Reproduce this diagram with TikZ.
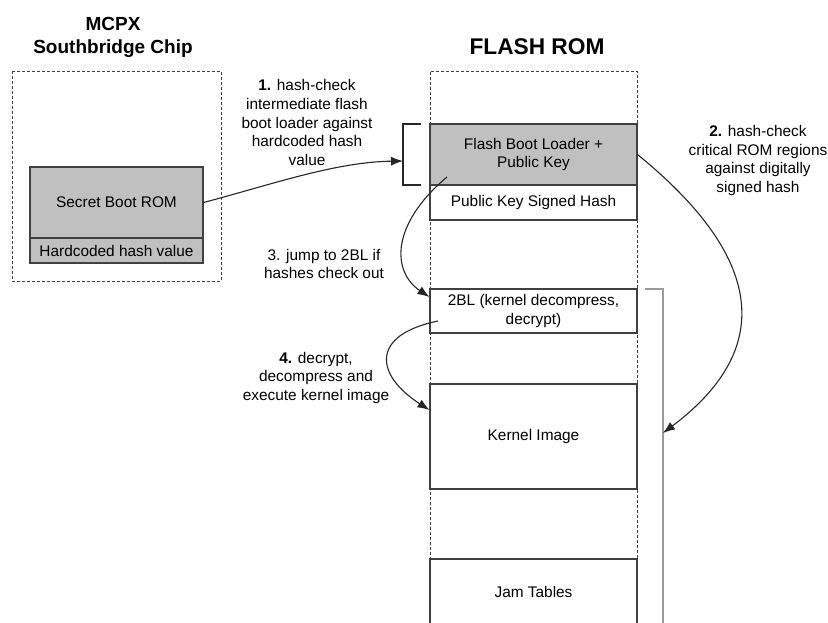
\documentclass[tikz,border=0pt]{standalone}
\usepackage{fontspec}
\setmainfont{Liberation Sans}
\usetikzlibrary{arrows.meta, positioning, calc}
\definecolor{romgray}{HTML}{C0C0C0}
\definecolor{edge}{HTML}{404040}
\definecolor{brk}{HTML}{9A9A9A}
\tikzset{
  region/.style={rectangle, draw=edge, line width=1.1bp, fill=white, align=center,
    inner sep=0pt, minimum width=207bp, font=\fontsize{15.4bp}{18.7bp}\selectfont},
  chip/.style={region, fill=romgray, minimum width=173bp},
  frame/.style={draw=edge, line width=0.8bp, dash pattern=on 3bp off 2bp},
  title/.style={align=center, font=\fontsize{19bp}{23bp}\selectfont\bfseries},
  note/.style={align=center, font=\fontsize{15.4bp}{18.7bp}\selectfont},
  arr/.style={-{Latex[length=12bp, width=9bp]}, line width=1.1bp, draw=black!85},
}
\begin{document}
\begin{tikzpicture}[x=1bp, y=-1bp]
  \useasboundingbox (0,0) rectangle (828,623);
  \clip (0,0) rectangle (828,623);

  % MCPX side
  \node[title] (mcpxtitle) at (113,37) {MCPX\\Southbridge Chip};
  \draw[frame] (12,71) rectangle (221,281);
  \node[chip, minimum height=71bp] (bootrom) at (116.5,202.5) {Secret Boot ROM};
  \node[chip, minimum height=25bp] (hardhash) at (116.5,250.5) {Hardcoded hash value};

  % flash side
  \node[title, font=\fontsize{22.7bp}{26bp}\selectfont\bfseries] (flashtitle) at (537,47) {FLASH ROM};
  \draw[frame] (430,640) -- (430,71) -- (637,71) -- (637,640);
  \node[region, fill=romgray, minimum height=61bp] (fbl) at (533.5,154.5) {Flash Boot Loader +\\Public Key};
  \node[region, minimum height=35bp] (pksh) at (533.5,202.5) {Public Key Signed Hash};
  \node[region, minimum height=44bp] (twobl) at (533.5,311) {2BL (kernel decompress,\\decrypt)};
  \node[region, minimum height=105bp] (kernel) at (533.5,436.5) {Kernel Image};
  \node[region, minimum height=81bp] (jam) at (533.5,599.5) {};
  \node[note] (jamtext) at (533.5,592) {Jam Tables};

  % brackets
  \draw[line width=1.1bp, draw=black!85] (421,124) -- (403,124) -- (403,185) -- (421,185);
  \coordinate (fblbrk) at (403,161);
  \draw[line width=1.6bp, draw=brk] (645,289) -- (663,289) -- (663,640);
  \coordinate (critbrk) at (663,433);

  \coordinate (fblin) at (447,177);
  \coordinate (twoblin) at (438,321);

  % steps
  \node[note] (step1) at (307,122.5) {\textbf{1.} hash-check\\intermediate flash\\boot loader against\\hardcoded hash\\value};
  \node[note] (step2) at (758,160.5) {\textbf{2.} hash-check\\critical ROM regions\\against digitally\\signed hash};
  \node[note] (step3) at (324,264) {3. jump to 2BL if\\hashes check out};
  \node[note] (step4) at (316,378) {\textbf{4.} decrypt,\\decompress and\\execute kernel image};

  \draw[arr] (bootrom.east) .. controls (270,185) and (335,162) .. (fblbrk);
  \draw[arr] (fbl.east) .. controls (730,230) and (800,330) .. (critbrk);
  \draw[arr] (fblin) .. controls (390,225) and (392,272) .. (twobl.west |- 0,297);
  \draw[arr] (twoblin) .. controls (370,335) and (375,375) .. (kernel.west |- 0,410);
\end{tikzpicture}
\end{document}
